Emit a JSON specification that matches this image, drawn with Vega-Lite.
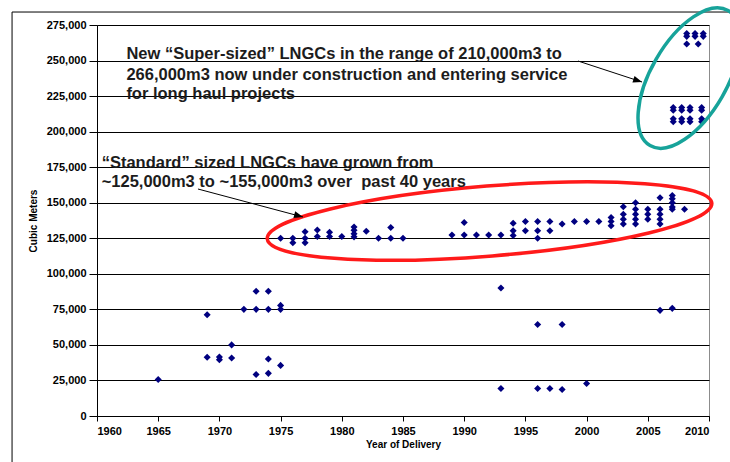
{
  "$schema": "https://vega.github.io/schema/vega-lite/v6.json",
  "width": 612,
  "height": 391,
  "autosize": {"type": "none"},
  "padding": {"left": 97, "top": 25, "right": 21, "bottom": 46},
  "background": "white",
  "config": {
    "view": {"stroke": "#8c8c8c", "strokeWidth": 1},
    "axis": {
      "labelFont": "Liberation Sans", "labelFontWeight": "bold", "labelFontSize": 11, "labelColor": "#000000",
      "titleFont": "Liberation Sans", "titleFontWeight": "bold", "titleFontSize": 10, "titleColor": "#000000",
      "domainColor": "#000000", "tickColor": "#000000", "gridColor": "#000000", "gridOpacity": 1, "gridWidth": 1
    }
  },
  "datasets": {
    "ships": [
      {"year": 1965, "volume": 25700},
      {"year": 1969, "volume": 71200}, {"year": 1969, "volume": 41300},
      {"year": 1970, "volume": 41500}, {"year": 1970, "volume": 39500},
      {"year": 1971, "volume": 50000}, {"year": 1971, "volume": 40800},
      {"year": 1972, "volume": 75000},
      {"year": 1973, "volume": 87700}, {"year": 1973, "volume": 75000}, {"year": 1973, "volume": 29200},
      {"year": 1974, "volume": 87700}, {"year": 1974, "volume": 75000}, {"year": 1974, "volume": 40100}, {"year": 1974, "volume": 30000},
      {"year": 1975, "volume": 77800}, {"year": 1975, "volume": 75000}, {"year": 1975, "volume": 35600}, {"year": 1975, "volume": 125000},
      {"year": 1976, "volume": 125000}, {"year": 1976, "volume": 121800},
      {"year": 1977, "volume": 129600}, {"year": 1977, "volume": 125000}, {"year": 1977, "volume": 121800},
      {"year": 1978, "volume": 130800}, {"year": 1978, "volume": 126200},
      {"year": 1979, "volume": 129200}, {"year": 1979, "volume": 126200},
      {"year": 1980, "volume": 126200},
      {"year": 1981, "volume": 132900}, {"year": 1981, "volume": 130600}, {"year": 1981, "volume": 128200}, {"year": 1981, "volume": 126000},
      {"year": 1982, "volume": 129900},
      {"year": 1983, "volume": 125000},
      {"year": 1984, "volume": 132600}, {"year": 1984, "volume": 125000},
      {"year": 1985, "volume": 125000},
      {"year": 1989, "volume": 127300},
      {"year": 1990, "volume": 136100}, {"year": 1990, "volume": 127300},
      {"year": 1991, "volume": 127300},
      {"year": 1992, "volume": 127300},
      {"year": 1993, "volume": 127300}, {"year": 1993, "volume": 90000}, {"year": 1993, "volume": 19300},
      {"year": 1994, "volume": 135600}, {"year": 1994, "volume": 130300}, {"year": 1994, "volume": 126900},
      {"year": 1995, "volume": 136800}, {"year": 1995, "volume": 130300},
      {"year": 1996, "volume": 136800}, {"year": 1996, "volume": 130300}, {"year": 1996, "volume": 125000}, {"year": 1996, "volume": 64400}, {"year": 1996, "volume": 19300},
      {"year": 1997, "volume": 136800}, {"year": 1997, "volume": 130300}, {"year": 1997, "volume": 19300},
      {"year": 1998, "volume": 135000}, {"year": 1998, "volume": 64400}, {"year": 1998, "volume": 18600},
      {"year": 1999, "volume": 136800},
      {"year": 2000, "volume": 136800}, {"year": 2000, "volume": 22900},
      {"year": 2001, "volume": 136800},
      {"year": 2002, "volume": 139600}, {"year": 2002, "volume": 136800}, {"year": 2002, "volume": 133800},
      {"year": 2003, "volume": 147200}, {"year": 2003, "volume": 141900}, {"year": 2003, "volume": 138400}, {"year": 2003, "volume": 135000},
      {"year": 2004, "volume": 150000}, {"year": 2004, "volume": 145400}, {"year": 2004, "volume": 141900}, {"year": 2004, "volume": 138400}, {"year": 2004, "volume": 135000},
      {"year": 2005, "volume": 145400}, {"year": 2005, "volume": 141900}, {"year": 2005, "volume": 138400},
      {"year": 2006, "volume": 153500}, {"year": 2006, "volume": 145400}, {"year": 2006, "volume": 141900}, {"year": 2006, "volume": 138400}, {"year": 2006, "volume": 135000}, {"year": 2006, "volume": 74300},
      {"year": 2007, "volume": 155100}, {"year": 2007, "volume": 152800}, {"year": 2007, "volume": 150000}, {"year": 2007, "volume": 147000}, {"year": 2007, "volume": 145400}, {"year": 2007, "volume": 75700},
      {"year": 2008, "volume": 145400},
      {"year": 2008.18, "volume": 269000}, {"year": 2008.18, "volume": 267000}, {"year": 2008.18, "volume": 261600},
      {"year": 2008.86, "volume": 269000}, {"year": 2008.86, "volume": 267000},
      {"year": 2009.53, "volume": 269000}, {"year": 2009.53, "volume": 267000},
      {"year": 2009.12, "volume": 261600},
      {"year": 2007.08, "volume": 217000}, {"year": 2007.08, "volume": 215000}, {"year": 2007.08, "volume": 209000}, {"year": 2007.08, "volume": 207000},
      {"year": 2007.77, "volume": 217000}, {"year": 2007.77, "volume": 215000}, {"year": 2007.77, "volume": 209000}, {"year": 2007.77, "volume": 207000},
      {"year": 2008.45, "volume": 217000}, {"year": 2008.45, "volume": 215000}, {"year": 2008.45, "volume": 209000}, {"year": 2008.45, "volume": 207000},
      {"year": 2009.40, "volume": 217000}, {"year": 2009.40, "volume": 215000}, {"year": 2009.40, "volume": 209000}, {"year": 2009.40, "volume": 207000}
    ],
    "frame": [{"year": 1953.06, "year2": 2025, "volume": 284130, "volume2": -60000}],
    "note1": [
      {"year": 1962.4, "volume": 251080, "label": "New “Super-sized” LNGCs in the range of 210,000m3 to"},
      {"year": 1962.4, "volume": 236310, "label": "266,000m3 now under construction and entering service"},
      {"year": 1962.4, "volume": 222950, "label": "for long haul projects"}
    ],
    "note2": [
      {"year": 1960.38, "volume": 174210, "label": "“Standard” sized LNGCs have grown from"},
      {"year": 1960.38, "volume": 161270, "label": "~125,000m3 to ~155,000m3 over\u00a0 past 40 years"}
    ],
    "arrows": [
      {"year": 1999.30, "volume": 249670, "year2": 2004.53, "volume2": 234900},
      {"year": 1968.25, "volume": 159650, "year2": 1976.83, "volume2": 139960}
    ]
  },
  "encoding": {
    "x": {"field": "year", "type": "quantitative", "scale": {"domain": [1960, 2010], "nice": false, "zero": false},
      "axis": {"values": [1960, 1965, 1970, 1975, 1980, 1985, 1990, 1995, 2000, 2005, 2010], "format": "d", "grid": false, "tickSize": 5, "labelPadding": 4, "labelOverlap": false, "title": "Year of Delivery", "titlePadding": 3}},
    "y": {"field": "volume", "type": "quantitative", "scale": {"domain": [0, 275000], "nice": false},
      "axis": {"values": [0, 25000, 50000, 75000, 100000, 125000, 150000, 175000, 200000, 225000, 250000, 275000], "format": ",d", "grid": true, "tickSize": 8, "labelPadding": 3, "labelOverlap": false, "title": "Cubic Meters", "titlePadding": 8}}
  },
  "layer": [
    {
      "data": {"name": "frame"},
      "mark": {"type": "rect", "fill": "white", "fillOpacity": 0, "stroke": "#000000", "strokeWidth": 1},
      "encoding": {
        "x2": {"field": "year2"},
        "y2": {"field": "volume2"}
      }
    },
    {
      "data": {"name": "ships"},
      "mark": {"type": "point", "shape": "diamond", "filled": true, "color": "#000080", "size": 50, "opacity": 1}
    },
    {
      "data": {"values": [{"year": 1992.07, "volume": 137150}]},
      "mark": {"type": "point", "shape": "M-1,0C-1,-0.0867,-0.5523,-0.157,0,-0.157C0.5523,-0.157,1,-0.0867,1,0C1,0.0867,0.5523,0.157,0,0.157C-0.5523,0.157,-1,0.0867,-1,0Z", "filled": false, "stroke": "#ff1a1a", "strokeWidth": 3.5, "size": 198916, "angle": -4.6, "opacity": 1}
    },
    {
      "data": {"values": [{"year": 2008.37, "volume": 237700}]},
      "mark": {"type": "point", "shape": "M-1,0C-1,-0.269,-0.5523,-0.487,0,-0.487C0.5523,-0.487,1,-0.269,1,0C1,0.269,0.5523,0.487,0,0.487C-0.5523,0.487,-1,0.269,-1,0Z", "filled": false, "stroke": "#17a39a", "strokeWidth": 3.5, "size": 24336, "angle": -60, "opacity": 1}
    },
    {
      "data": {"name": "arrows"},
      "mark": {"type": "rule", "color": "#000000", "strokeWidth": 1},
      "encoding": {
        "x2": {"field": "year2"},
        "y2": {"field": "volume2"}
      }
    },
    {
      "data": {"values": [{"year": 2004.53, "volume": 234900}]},
      "mark": {"type": "point", "shape": "M0,0L-1,-0.38L-1,0.38Z", "filled": true, "color": "#000000", "size": 324, "angle": 18, "opacity": 1}
    },
    {
      "data": {"values": [{"year": 1976.83, "volume": 139960}]},
      "mark": {"type": "point", "shape": "M0,0L-1,-0.38L-1,0.38Z", "filled": true, "color": "#000000", "size": 324, "angle": 15, "opacity": 1}
    },
    {
      "data": {"name": "note1"},
      "mark": {"type": "text", "align": "left", "baseline": "alphabetic", "font": "Liberation Sans", "fontWeight": "bold", "fontSize": 16.5, "color": "#1c1c1c"},
      "encoding": {
        "text": {"field": "label"}
      }
    },
    {
      "data": {"name": "note2"},
      "mark": {"type": "text", "align": "left", "baseline": "alphabetic", "font": "Liberation Sans", "fontWeight": "bold", "fontSize": 16.5, "color": "#1c1c1c"},
      "encoding": {
        "text": {"field": "label"}
      }
    }
  ]
}
